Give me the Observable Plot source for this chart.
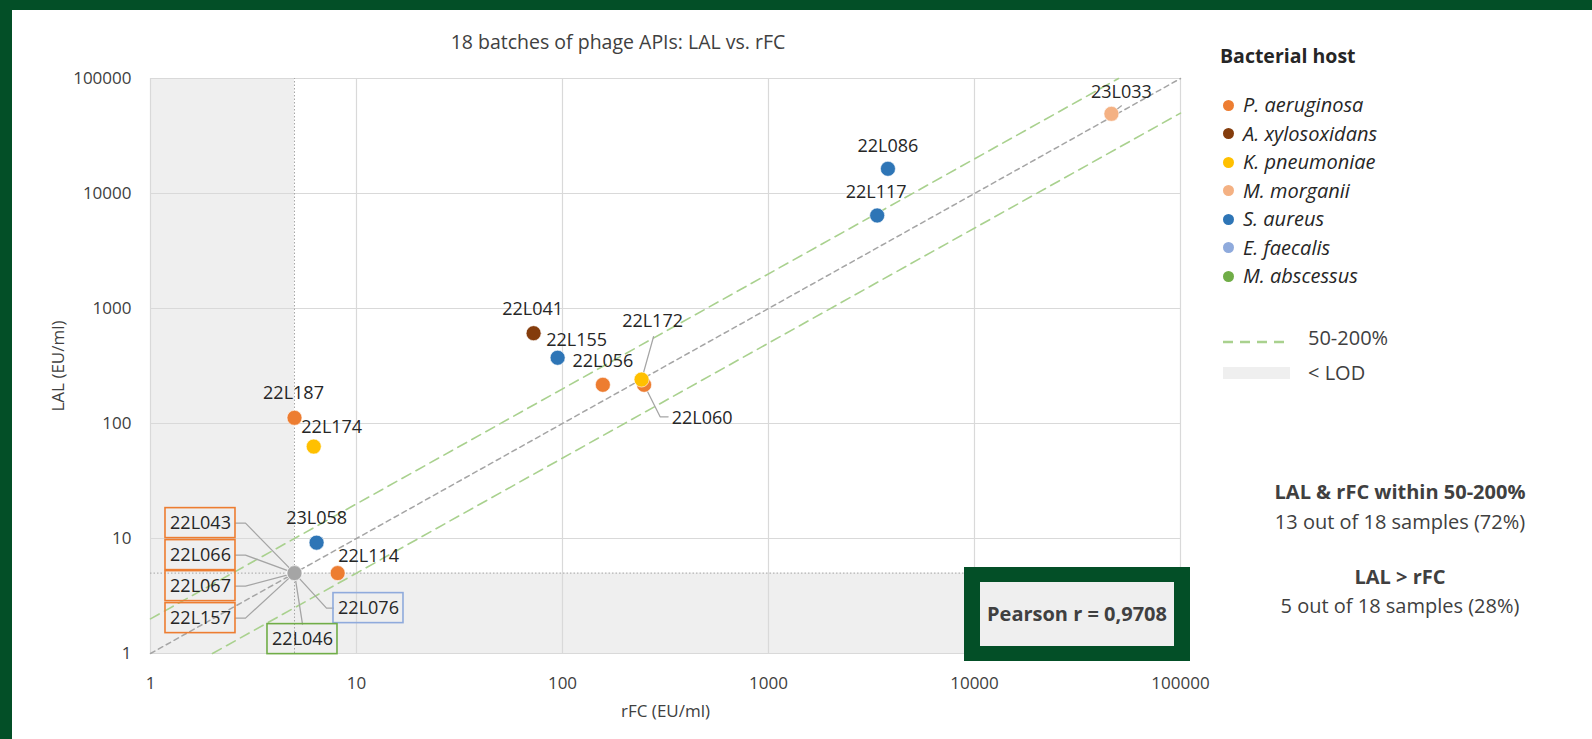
<!DOCTYPE html>
<html><head><meta charset="utf-8">
<script src="https://cdn.jsdelivr.net/npm/d3@7"></script>
<script src="https://cdn.jsdelivr.net/npm/@observablehq/plot@0.6"></script>
<style>
html,body{margin:0;padding:0;background:#fff;}
#wrap{position:relative;width:1592px;height:739px;overflow:hidden;background:#fff;font-family:"Open Sans",sans-serif;}
.border{position:absolute;background:#034f27;z-index:3;}
#chart{position:absolute;left:0;top:0;}
.abs{position:absolute;white-space:nowrap;color:#404040;font-size:20px;line-height:24px;z-index:2;}
.leg{position:absolute;white-space:nowrap;color:#262626;font-size:20px;line-height:24px;font-style:italic;z-index:2;}
.dot{position:absolute;width:11px;height:11px;border-radius:50%;z-index:2;}
</style></head>
<body><div id="wrap">
<div class="border" style="left:0;top:0;width:1592px;height:10px"></div>
<div class="border" style="left:0;top:0;width:12px;height:739px"></div>
<div id="chart"></div>
</div>
<script>
// ---------- data ----------
const LOD = 5;
const hosts = ["P. aeruginosa","A. xylosoxidans","K. pneumoniae","M. morganii","S. aureus","E. faecalis","M. abscessus"];
const hostColors = ["#ED7D31","#843C0C","#FFC000","#F4B183","#2E75B6","#8FAADC","#70AD47"];
const batches = ["23L033","22L086","22L117","22L041","22L155","22L056","22L060","22L172","22L187","22L174","23L058","22L114","22L043","22L066","22L067","22L157","22L076","22L046"];
const rfcValues = [46200,3800,3370,72.4,94.7,157,249,242,5,6.2,6.4,8.1,5,5,5,5,5,5];
const lalValues = [49300,16400,6440,610,373,217,217,241,112,63,9.2,5,5,5,5,5,5,5];
const batchHost = ["M. morganii","S. aureus","S. aureus","A. xylosoxidans","S. aureus","P. aeruginosa","P. aeruginosa","K. pneumoniae","P. aeruginosa","K. pneumoniae","S. aureus","P. aeruginosa","P. aeruginosa","P. aeruginosa","P. aeruginosa","P. aeruginosa","E. faecalis","M. abscessus"];
const axisTicks = [1,10,100,1000,10000,100000];
const ratioBand = [0.5, 2];
const titleText = "18 batches of phage APIs: LAL vs. rFC";
const xLabel = "rFC (EU/ml)";
const yLabel = "LAL (EU/ml)";
const pearsonText = "Pearson r = 0,9708";
const summary = [["LAL & rFC within 50-200%","13 out of 18 samples (72%)"],["LAL > rFC","5 out of 18 samples (28%)"]];

// ---------- layout (pixel offsets of labels from their point) ----------
const labelLayout = {
 "23L033": {dx:10, dy:-22, leader:[[0,0],[10,-8]]},
 "22L086": {dx:0, dy:-23},
 "22L117": {dx:-1, dy:-23},
 "22L041": {dx:-1, dy:-24},
 "22L155": {dx:19, dy:-18},
 "22L056": {dx:0, dy:-24},
 "22L172": {dx:11, dy:-58, leader:[[0,0],[12,-43]]},
 "22L060": {dx:58, dy:33, leader:[[0,0],[16,32],[24,32]]},
 "22L187": {dx:-1, dy:-25},
 "22L174": {dx:18, dy:-19},
 "23L058": {dx:0, dy:-24},
 "22L114": {dx:31, dy:-17},
 "22L043": {dx:-94, dy:-50, box:true, leader:[[-59,-50],[-49,-50],[0,0]]},
 "22L066": {dx:-94, dy:-18, box:true, leader:[[-59,-18],[-49,-18],[0,0]]},
 "22L067": {dx:-94, dy:13, box:true, leader:[[-59,13],[-49,13],[0,0]]},
 "22L157": {dx:-94, dy:45, box:true, leader:[[-59,45],[-49,45],[0,0]]},
 "22L076": {dx:74, dy:35, box:true, leader:[[0,0],[32,35],[39,35]]},
 "22L046": {dx:8, dy:66, box:true, leader:[[0,0],[8,51]]}
};
const W = 1592, H = 739, mL = 150, mR = 412, mT = 78, mB = 86;
const boxW = 70, boxH = 30;

// ---------- build ----------
const domain = [axisTicks[0], axisTicks[axisTicks.length-1]];
const xs = Plot.scale({x:{type:"log", domain, range:[mL, W-mR]}});
const ys = Plot.scale({y:{type:"log", domain, range:[H-mB, mT]}});
const inv = (px, py) => ({x: xs.invert(px), y: ys.invert(py)});

const rows = batches.map((id,i) => ({id, rfc: rfcValues[i], lal: lalValues[i], host: batchHost[i],
  belowLOD: rfcValues[i] <= LOD && lalValues[i] <= LOD}));

const labelRows = [], boxRows = [], leaderRows = [];
for (const r of rows) {
  const L = labelLayout[r.id];
  const px = xs.apply(r.rfc), py = ys.apply(r.lal);
  const c = inv(px + L.dx, py + L.dy);
  labelRows.push({id: r.id, x: c.x, y: c.y});
  if (L.box) {
    const a = inv(px + L.dx - boxW/2, py + L.dy + boxH/2);
    const b = inv(px + L.dx + boxW/2, py + L.dy - boxH/2);
    boxRows.push({host: r.host, x1: a.x, y1: a.y, x2: b.x, y2: b.y});
  }
  if (L.leader) {
    for (const [ox, oy] of L.leader) { const p = inv(px + ox, py + oy); leaderRows.push({id: r.id, x: p.x, y: p.y}); }
  }
}

const lodRegions = [
  {x1: domain[0], x2: LOD, y1: domain[0], y2: domain[1]},
  {x1: domain[0], x2: domain[1], y1: domain[0], y2: LOD}
];
const diagRows = [];
for (const k of [1, ...ratioBand]) {
  const x0 = Math.max(domain[0], domain[0]/k), x1 = Math.min(domain[1], domain[1]/k);
  diagRows.push({k, x: x0, y: x0*k}, {k, x: x1, y: x1*k});
}

const plot = Plot.plot({
  width: W, height: H, marginLeft: mL, marginRight: mR, marginTop: mT, marginBottom: mB,
  style: {background: "transparent", fontFamily: "Open Sans", fontSize: "17px", color: "#404040", overflow: "visible"},
  x: {type: "log", domain},
  y: {type: "log", domain},
  color: {type: "ordinal", domain: hosts, range: hostColors},
  marks: [
    Plot.rect(lodRegions, {x1: "x1", x2: "x2", y1: "y1", y2: "y2", fill: "#efefef"}),
    Plot.gridX(axisTicks, {stroke: "#d9d9d9", strokeOpacity: 1, strokeWidth: 1.2}),
    Plot.gridY(axisTicks, {stroke: "#d9d9d9", strokeOpacity: 1, strokeWidth: 1.2}),
    Plot.ruleX([LOD], {y1: domain[0], y2: domain[1], stroke: "#a6a6a6", strokeDasharray: "1.5,2"}),
    Plot.ruleY([LOD], {x1: domain[0], x2: domain[1], stroke: "#a6a6a6", strokeDasharray: "1.5,2"}),
    Plot.line(diagRows.filter(d => d.k === 1), {x: "x", y: "y", stroke: "#a5a5a5", strokeWidth: 1.5, strokeDasharray: "5,4"}),
    Plot.line(diagRows.filter(d => d.k !== 1), {x: "x", y: "y", z: "k", stroke: "#a9d18e", strokeWidth: 1.6, strokeDasharray: "10,6"}),
    Plot.axisX(axisTicks, {tickSize: 0, tickPadding: 23, tickFormat: d => String(d), fontSize: 17,
      label: xLabel, labelAnchor: "center", labelArrow: "none", labelOffset: 63}),
    Plot.axisY(axisTicks, {tickSize: 0, tickPadding: 19, tickFormat: d => String(d), fontSize: 17,
      label: yLabel, labelAnchor: "center", labelArrow: "none", labelOffset: 99}),
    Plot.line(leaderRows, {x: "x", y: "y", z: "id", stroke: "#a5a5a5", strokeWidth: 1.3}),
    Plot.dot(rows.filter(d => !d.belowLOD), {x: "rfc", y: "lal", r: 7.5, fill: "host", stroke: "white", strokeWidth: 0.6}),
    Plot.dot(rows.filter(d => d.belowLOD), {x: "rfc", y: "lal", r: 7.5, fill: "#a5a5a5", stroke: "white", strokeWidth: 0.6}),
    Plot.rect(boxRows, {x1: "x1", x2: "x2", y1: "y1", y2: "y2", fill: "none", stroke: "host", strokeWidth: 1.6}),
    Plot.text(labelRows, {x: "x", y: "y", text: "id", fontSize: 18, fill: "#262626"})
  ]
});
const wrap = document.getElementById("chart");
wrap.appendChild(plot);

// ---------- annotations ----------
const root = document.getElementById("wrap");
function addDiv(cls, text, css) { const d = document.createElement("div"); d.className = cls; d.textContent = text; Object.assign(d.style, css); root.appendChild(d); return d; }
addDiv("abs", titleText, {left: "368px", width: "500px", textAlign: "center", top: "30px", fontSize: "19.5px"});
addDiv("abs", "Bacterial host", {left: "1220px", top: "44px", fontWeight: "700", color: "#262626", fontSize: "19.5px"});
hosts.forEach((h, i) => {
  const cy = 105 + 28.5*i;
  const dot = document.createElement("div"); dot.className = "dot";
  Object.assign(dot.style, {left: (1228-5.5)+"px", top: (cy-5.5)+"px", background: hostColors[i]}); root.appendChild(dot);
  addDiv("leg", h, {left: "1243px", top: (cy-12)+"px"});
});
const ls = document.createElementNS("http://www.w3.org/2000/svg","svg");
ls.setAttribute("width","70"); ls.setAttribute("height","6");
Object.assign(ls.style, {position: "absolute", left: "1222px", top: "339px", zIndex: 2});
ls.innerHTML = '<line x1="1" y1="3" x2="66" y2="3" stroke="#a9d18e" stroke-width="2.5" stroke-dasharray="10,7"/>';
root.appendChild(ls);
addDiv("abs", "50-200%", {left: "1308px", top: "326px"});
const lodSw = document.createElement("div");
Object.assign(lodSw.style, {position: "absolute", left: "1223px", top: "367px", width: "67px", height: "12px", background: "#efefef", zIndex: 2});
root.appendChild(lodSw);
addDiv("abs", "< LOD", {left: "1308px", top: "361px"});
const centers = [[491.7, 521.7], [576.7, 606]];
summary.forEach((s, i) => {
  addDiv("abs", s[0], {left: "1250px", width: "300px", textAlign: "center", top: (centers[i][0]-12)+"px", fontWeight: "700"});
  addDiv("abs", s[1], {left: "1250px", width: "300px", textAlign: "center", top: (centers[i][1]-12)+"px"});
});
addDiv("abs", pearsonText, {left: "964px", top: "567px", width: "226px", height: "94px", boxSizing: "border-box",
  border: "15px solid #034f27", borderLeftWidth: "16px", borderRightWidth: "16px", background: "#efefef",
  display: "flex", alignItems: "center", justifyContent: "center", fontWeight: "700", color: "#404040"});
</script>
</body></html>
